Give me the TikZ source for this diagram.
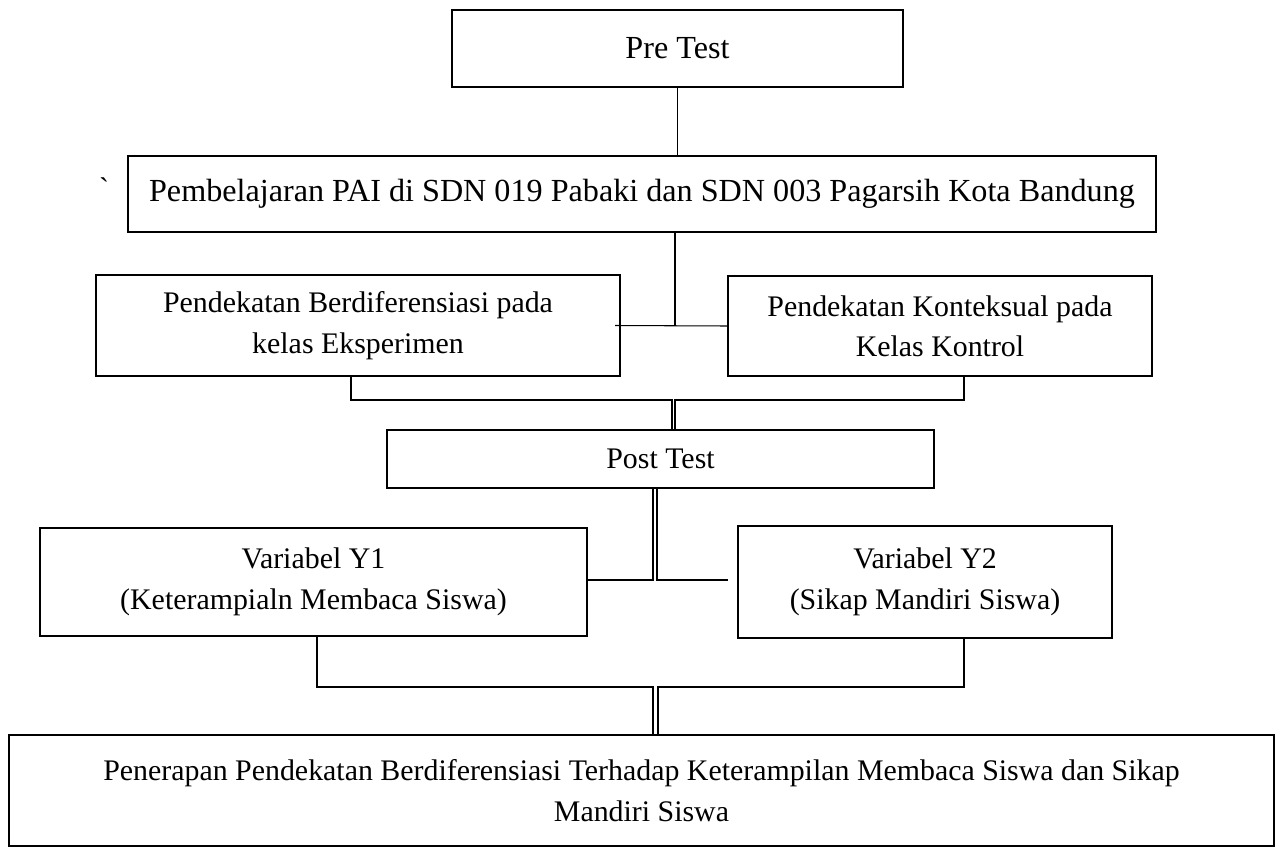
\documentclass[tikz,border=0pt]{standalone}
\usepackage{fontspec}
\setmainfont{Liberation Serif}
\newfontfamily\tickfont[Ligatures=ResetAll]{Liberation Serif}
\usepackage{tikz}
\usetikzlibrary{positioning, calc}

\begin{document}
\begin{tikzpicture}[x=0.2mm, y=-0.2mm,
    box/.style={rectangle, draw=black, line width=1.3pt, inner sep=0pt,
                align=center, font=\fontsize{17}{23}\selectfont},
    bigbox/.style={box, font=\fontsize{18.3}{24}\selectfont},
    link/.style={draw=black, line width=0.6pt}
  ]
  \useasboundingbox (0,0) rectangle (1281,850);

  \node[bigbox, minimum width=90.2mm,  minimum height=15.4mm] (pre)  at (677.5,48.5) {Pre Test};
  \node[bigbox, minimum width=205.6mm, minimum height=15.2mm] (pai)  at (642,194)
       {Pembelajaran PAI di SDN 019 Pabaki dan SDN 003 Pagarsih Kota Bandung};
  \node[font=\fontsize{17}{23}\tickfont] (tick) at (104,188) {`};
  \node[box, minimum width=104.8mm, minimum height=20.2mm] (dif)  at (358,325.5)
       {Pendekatan Berdiferensiasi pada\\kelas Eksperimen};
  \node[box, minimum width=84.8mm,  minimum height=20mm]   (ktx)  at (940,326)
       {Pendekatan Konteksual pada\\Kelas Kontrol};
  \node[box, minimum width=109.4mm, minimum height=11.6mm] (post) at (660.5,459) {Post Test};
  \node[box, minimum width=109.4mm, minimum height=21.6mm] (yone) at (313.5,582)
       {Variabel Y1\\(Keterampialn Membaca Siswa)};
  \node[box, minimum width=74.8mm,  minimum height=22.4mm] (ytwo) at (925,582)
       {Variabel Y2\\(Sikap Mandiri Siswa)};
  \node[box, minimum width=253mm,   minimum height=22.2mm] (fin)  at (641.5,790.5)
       {Penerapan Pendekatan Berdiferensiasi Terhadap Keterampilan Membaca Siswa dan Sikap\\Mandiri Siswa};

  % junctions
  \coordinate (mid) at (675,326);
  \coordinate (jl) at (672,400);
  \coordinate (jr) at (675,400);
  \coordinate (pl) at (653,580);
  \coordinate (pr) at (657,580);
  \coordinate (pe) at (728,580);
  \coordinate (ql) at (653,687);
  \coordinate (qr) at (658,687);

  \draw[link] (pre.south) -- (pre.south |- pai.north);
  \draw[link] (pai.south -| mid) -- (mid);
  \draw[link] ($(dif.east)+(-6,0)$) -- (ktx.west);

  \draw[link] ($(dif.south)+(-7,0)$) |- (jl) -- (post.north -| jl);
  \draw[link] ($(ktx.south)+(24,0)$) |- (jr) -- (post.north -| jr);

  \draw[link] (post.south -| pl) -- (pl) -- (yone.east |- pl);
  \draw[link] (post.south -| pr) -- (pr) -- (pe);

  \draw[link] ($(yone.south)+(3.5,0)$) |- (ql) -- (fin.north -| ql);
  \draw[link] ($(ytwo.south)+(39,0)$) |- (qr) -- (fin.north -| qr);
\end{tikzpicture}
\end{document}
